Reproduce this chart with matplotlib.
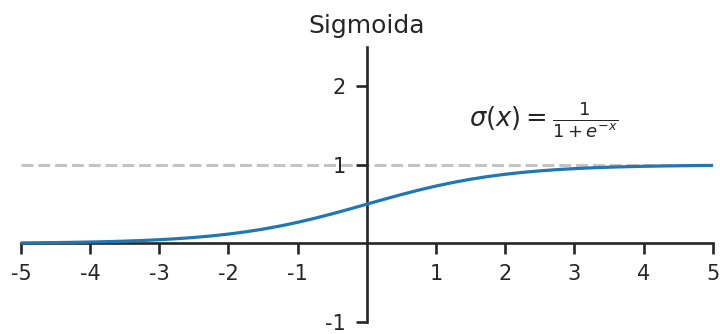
import matplotlib
matplotlib.use("Agg")
import matplotlib.pyplot as plt

plt.rcParams['axes.unicode_minus'] = False

# Puntos de la curva sigmoide (paso de 0.25)
x = [-5.0, -4.75, -4.5, -4.25, -4.0, -3.75, -3.5, -3.25, -3.0, -2.75, -2.5,
     -2.25, -2.0, -1.75, -1.5, -1.25, -1.0, -0.75, -0.5, -0.25, 0.0,
     0.25, 0.5, 0.75, 1.0, 1.25, 1.5, 1.75, 2.0, 2.25, 2.5,
     2.75, 3.0, 3.25, 3.5, 3.75, 4.0, 4.25, 4.5, 4.75, 5.0]
y = [0.0067, 0.0086, 0.0110, 0.0140, 0.0180, 0.0230, 0.0293, 0.0373, 0.0474, 0.0601, 0.0759,
     0.0953, 0.1192, 0.1480, 0.1824, 0.2227, 0.2689, 0.3208, 0.3775, 0.4378, 0.5000,
     0.5622, 0.6225, 0.6792, 0.7311, 0.7773, 0.8176, 0.8520, 0.8808, 0.9047, 0.9241,
     0.9399, 0.9526, 0.9627, 0.9707, 0.9770, 0.9820, 0.9860, 0.9890, 0.9914, 0.9933]

xticks = [-5, -4, -3, -2, -1, 1, 2, 3, 4, 5]
yticks = [-1, 1, 2]
asintota = 1

texto = '#262626'

fig = plt.figure(figsize=(7.2, 3.34), dpi=100)
ax = fig.add_axes([0.029, 0.036, 0.961, 0.823])

ax.axhline(asintota, color='#c4c4c4', linestyle='--', linewidth=2.2, dashes=(3.9, 1.6), zorder=1)
ax.plot(x, y, color='#1f77b4', linewidth=2.3, zorder=3)

ax.set_xlim(-5, 5)
ax.set_ylim(-1, 2.5)

# Ejes centrados en el origen
ax.spines['left'].set_position('zero')
ax.spines['bottom'].set_position('zero')
ax.spines['right'].set_visible(False)
ax.spines['top'].set_visible(False)
for s in ('left', 'bottom'):
    ax.spines[s].set_linewidth(1.9)
    ax.spines[s].set_color(texto)

ax.set_xticks(xticks)
ax.set_xticklabels([str(t) for t in xticks])
ax.set_yticks(yticks)
ax.set_yticklabels([str(t) for t in yticks])
ax.tick_params(axis='both', labelsize=15, colors=texto, width=1.9, length=8,
               pad=7, direction='out')

ax.text(1.48, 1.58, r'$\sigma(x) = \frac{1}{1 + e^{-x}}$', fontsize=18.5, color=texto,
        va='center', ha='left')

ax.set_title('Sigmoida', fontsize=18, color=texto, pad=10)

fig.savefig('out.png', dpi=100)
